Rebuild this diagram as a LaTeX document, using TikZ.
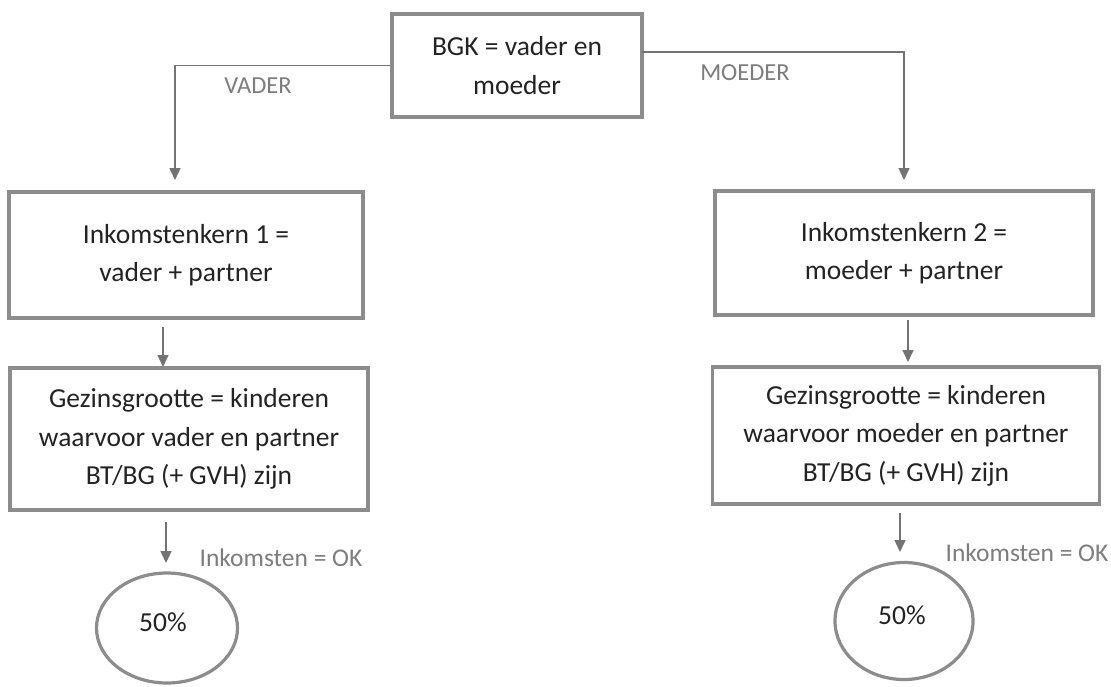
\documentclass[tikz,border=0pt]{standalone}
\usepackage{fontspec}
\setmainfont{Carlito}
\usetikzlibrary{arrows.meta,shapes.geometric}
\definecolor{boxgray}{RGB}{140,140,140}
\definecolor{linegray}{RGB}{115,115,115}
\definecolor{txt}{RGB}{35,35,35}
\definecolor{lbl}{RGB}{125,125,125}
\begin{document}
\begin{tikzpicture}[x=1pt,y=-1pt,
  box/.style={draw=boxgray, line width=3.2pt, fill=white, inner sep=0pt, align=center,
    text=txt, font=\fontsize{27.5}{38.5}\selectfont},
  ell/.style={ellipse, draw=boxgray, line width=3.2pt, inner sep=0pt},
  pct/.style={text=txt, font=\fontsize{27.5}{30}\selectfont, inner sep=0pt},
  conn/.style={draw=linegray, line width=1.4pt, -{Triangle[length=12pt,width=11pt]}},
  lab/.style={text=lbl, font=\fontsize{24.5}{26}\selectfont, inner sep=0pt},
  oklab/.style={text=lbl, font=\fontsize{25.5}{28}\selectfont, inner sep=0pt}]
\useasboundingbox (0,0) rectangle (1111,686);
\fill[white] (0,0) rectangle (1111,686);

\node[box, minimum width=250pt, minimum height=103pt] (top) at (517,65.5) {BGK = vader en\\moeder};

\node[box, minimum width=354pt, minimum height=126pt] (k1) at (186,255) {Inkomstenkern 1 =\\vader + partner};
\node[box, minimum width=378pt, minimum height=124pt] (k2) at (904,253) {Inkomstenkern 2 =\\moeder + partner};

\node[box, minimum width=358pt, minimum height=142pt] (g1) at (189,439) {Gezinsgrootte = kinderen\\waarvoor vader en partner\\BT/BG (+ GVH) zijn};
\node[box, minimum width=387pt, minimum height=137pt] (g2) at (906,435.5) {Gezinsgrootte = kinderen\\waarvoor moeder en partner\\BT/BG (+ GVH) zijn};

\node[ell, minimum width=141pt, minimum height=110pt] (e1) at (167,628) {};
\node[pct] (p1) at (163,622) {50\%};
\node[ell, minimum width=138pt, minimum height=117pt] (e2) at (904,621) {};
\node[pct] (p2) at (902,615) {50\%};

\node[lab] (vader) at (258,86) {VADER};
\node[lab] (moeder) at (745,73) {MOEDER};
\node[oklab] (ok1) at (281,558) {Inkomsten = OK};
\node[oklab] (ok2) at (1027,553) {Inkomsten = OK};

\coordinate (vL) at (175,180);
\coordinate (sR) at (642,52);
\coordinate (vR) at (904,180);
\coordinate (a1s) at (163,327);
\coordinate (a1e) at (163,367);
\coordinate (a2s) at (908,320);
\coordinate (a2e) at (908,362);
\coordinate (b1s) at (166,522);
\coordinate (b1e) at (166,563);
\coordinate (b2s) at (900,513);
\coordinate (b2e) at (900,552);

\draw[conn] (top.west) -| (vL);
\draw[conn] (sR) -| (vR);
\draw[conn] (a1s) -- (a1e);
\draw[conn] (a2s) -- (a2e);
\draw[conn] (b1s) -- (b1e);
\draw[conn] (b2s) -- (b2e);
\end{tikzpicture}
\end{document}
